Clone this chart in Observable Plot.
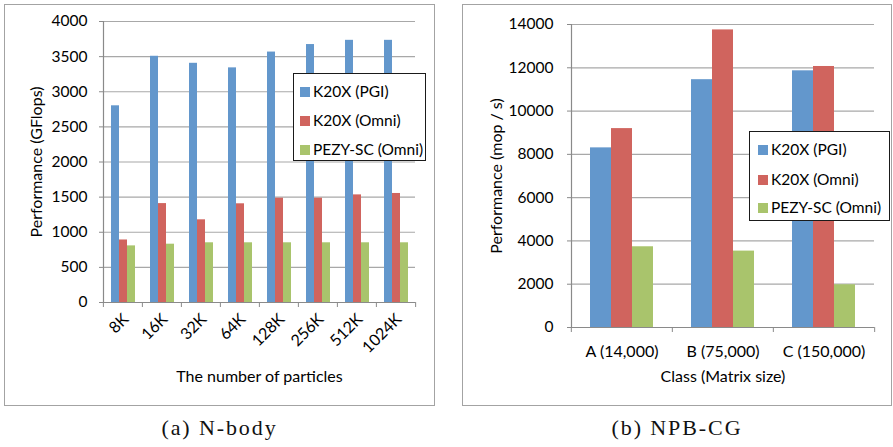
<!DOCTYPE html>
<html>
<head>
<meta charset="utf-8">
<script src="https://cdn.jsdelivr.net/npm/d3@7"></script>
<script src="https://cdn.jsdelivr.net/npm/@observablehq/plot@0.6"></script>
<style>
  html, body { margin: 0; padding: 0; background: #fff; }
  #root { position: relative; width: 893px; height: 447px; overflow: hidden; background: #fff; }
  .panel { position: absolute; }
  .panel [aria-label$="axis label"] { font-size: 16px; }
  .panel [aria-label="fx-axis tick label"] { font-size: 16px; }
  .border { position: absolute; border: 1.5px solid #a3a3a3; box-sizing: border-box; pointer-events: none; }
  .legend { position: absolute; border: 1.5px solid #1a1a1a; box-sizing: border-box; background: #fff;
            font-family: Lato, sans-serif; font-size: 15.5px; color: #000; }
  .legend .item { position: absolute; left: 0; white-space: nowrap; line-height: 18px; }
  .legend .sw { display: inline-block; width: 10px; height: 10px; vertical-align: -0px; margin-right: 3px; }
  .caption { position: absolute; font-family: "Liberation Serif", serif; font-size: 22px; letter-spacing: 1.9px;
             color: #111; transform: translateX(-50%); white-space: nowrap; }
</style>
</head>
<body>
<div id="root"></div>
<script>
// ---- data ----
const series = ["K20X (PGI)", "K20X (Omni)", "PEZY-SC (Omni)"];
const colors = ["#6397cc", "#d0645e", "#a9c46c"];

const catsA = ["8K", "16K", "32K", "64K", "128K", "256K", "512K", "1024K"];
const pgiA  = [2800, 3505, 3405, 3340, 3565, 3672, 3732, 3732];
const omniA = [890, 1408, 1177, 1405, 1485, 1485, 1532, 1552];
const pezyA = [806, 830, 850, 850, 850, 850, 850, 850];
const yTicksA = [0, 500, 1000, 1500, 2000, 2500, 3000, 3500, 4000];

const catsB = ["A (14,000)", "B (75,000)", "C (150,000)"];
const pgiB  = [8300, 11450, 11860];
const omniB = [9190, 13750, 12060];
const pezyB = [3730, 3530, 1975];
const yTicksB = [0, 2000, 4000, 6000, 8000, 10000, 12000, 14000];

const gridColor = "#a8a8a8";
const axisColor = "#8a8a8a";

function table(cats, cols) {
  return cats.flatMap((c, i) => series.map((s, j) => ({cat: c, series: s, value: cols[j][i]})));
}
const dataA = table(catsA, [pgiA, omniA, pezyA]);
const dataB = table(catsB, [pgiB, omniB, pezyB]);

const root = document.getElementById("root");

function panel(opts) {
  const {data, cats, yTicks, left, top, width, height, margins, xPadOuter, yLabel, yLabelOffset, xLabel, xLabelOffset,
         tickPaddingY, rotate, fxTickPadding, fxDx} = opts;
  const step = (width - margins[1] - margins[3]) / cats.length;
  const chart = Plot.plot({
    width, height,
    marginTop: margins[0], marginRight: margins[1], marginBottom: margins[2], marginLeft: margins[3],
    style: {fontFamily: "Lato, sans-serif", fontSize: "15.5px", color: "#000", background: "transparent", overflow: "visible"},
    fx: {domain: cats, padding: 0, label: null},
    x: {domain: series, paddingInner: 0, paddingOuter: xPadOuter, axis: null},
    y: {domain: [yTicks[0], yTicks[yTicks.length - 1]]},
    color: {domain: series, range: colors},
    marks: [
      Plot.gridY(yTicks, {stroke: gridColor, strokeOpacity: 1, strokeWidth: 1.2}),
      Plot.barY(data, {fx: "cat", x: "series", y: "value", fill: "series"}),
      Plot.ruleY([0], {stroke: axisColor, strokeWidth: 1.2}),
      Plot.frame({anchor: "left", stroke: axisColor, strokeWidth: 1.2, facetAnchor: "left"}),
      Plot.axisY(yTicks, {tickSize: 4, tickPadding: tickPaddingY, stroke: axisColor, fill: "#000",
                          tickFormat: d3.format("d"),
                          label: yLabel, labelAnchor: "center", labelOffset: yLabelOffset, labelArrow: "none"}),
      Plot.axisFx({anchor: "bottom", tickSize: 0, tickPadding: fxTickPadding, tickRotate: rotate, fill: "#000", dx: fxDx,
                   label: null}),
      Plot.axisFx({anchor: "bottom", tickSize: 0, tickFormat: () => "", fill: "#000",
                   label: xLabel, labelAnchor: "center", labelOffset: xLabelOffset, labelArrow: "none"}),
      Plot.axisFx({anchor: "bottom", tickSize: 5, tickFormat: () => "", dx: -step / 2, stroke: axisColor, label: null}),
      Plot.axisFx({anchor: "bottom", ticks: [cats[cats.length - 1]], tickSize: 5, tickFormat: () => "", dx: step / 2,
                   stroke: axisColor, label: null})
    ]
  });
  chart.classList.add("panel");
  chart.style.left = left + "px";
  chart.style.top = top + "px";
  root.appendChild(chart);
  const b = document.createElement("div");
  b.className = "border";
  Object.assign(b.style, {left: left + "px", top: top + "px", width: width + "px", height: height + "px"});
  root.appendChild(b);
}

function legend(left, top, width, height, itemTops, textLeft) {
  const box = document.createElement("div");
  box.className = "legend";
  Object.assign(box.style, {left: left + "px", top: top + "px", width: width + "px", height: height + "px"});
  series.forEach((s, i) => {
    const it = document.createElement("div");
    it.className = "item";
    it.style.top = itemTops[i] + "px";
    it.style.left = textLeft + "px";
    const sw = document.createElement("span");
    sw.className = "sw";
    sw.style.background = colors[i];
    it.appendChild(sw);
    it.appendChild(document.createTextNode(s));
    box.appendChild(it);
  });
  root.appendChild(box);
}

function caption(text, cx, top) {
  const c = document.createElement("div");
  c.className = "caption";
  c.textContent = text;
  c.style.left = cx + "px";
  c.style.top = top + "px";
  root.appendChild(c);
}

panel({data: dataA, cats: catsA, yTicks: yTicksA, left: 4, top: 4, width: 431, height: 402,
       margins: [17, 19, 104, 98], xPadOuter: 0.75, yLabel: "Performance (GFlops)", yLabelOffset: 73,
       xLabel: "The number of particles", xLabelOffset: 79, tickPaddingY: 12, rotate: -45, fxTickPadding: 14, fxDx: 3});
panel({data: dataB, cats: catsB, yTicks: yTicksB, left: 462, top: 4, width: 430, height: 402,
       margins: [20, 18, 79, 108], xPadOuter: 0.8, yLabel: "Performance (mop / s)", yLabelOffset: 81,
       xLabel: "Class (Matrix size)", xLabelOffset: 54, tickPaddingY: 14, rotate: 0, fxTickPadding: 18, fxDx: 0});

legend(293, 73, 133, 88, [8, 37, 66], 6);
legend(749, 131, 141, 90, [8, 38, 66], 8);

caption("(a) N-body", 219.5, 415);
caption("(b) NPB-CG", 677, 415);
</script>
</body>
</html>
